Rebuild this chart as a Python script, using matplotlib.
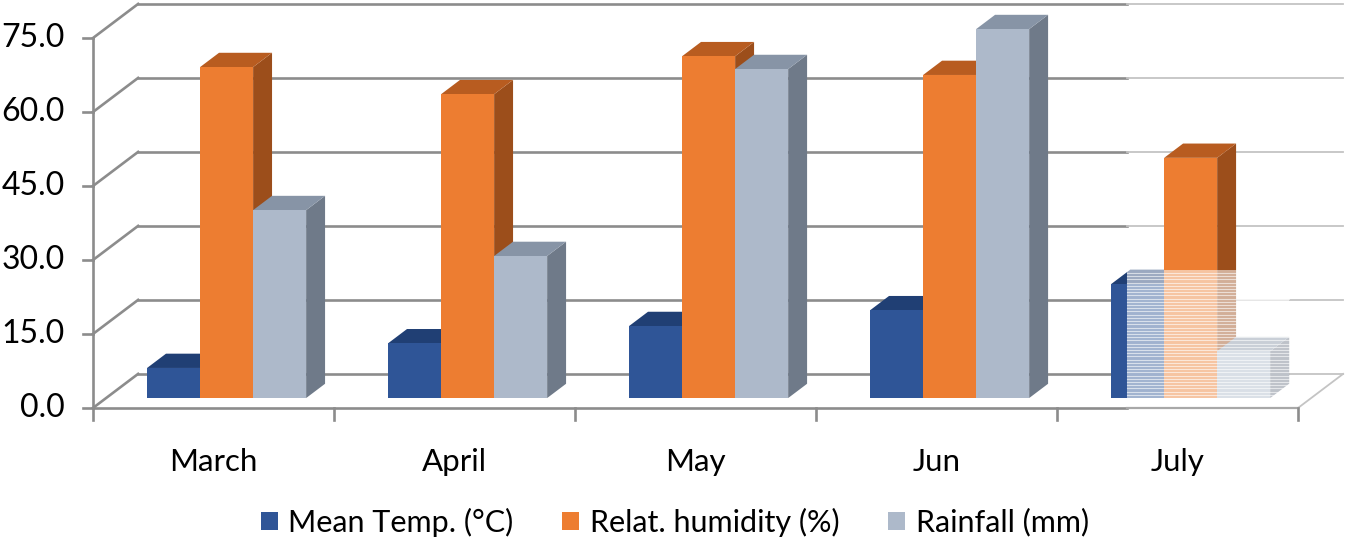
import matplotlib.pyplot as plt
from matplotlib.patches import Polygon, Rectangle

months = ['March', 'April', 'May', 'Jun', 'July']
series = ['Mean Temp. (°C)', 'Relat. humidity (%)', 'Rainfall (mm)']
mean_temp = [6.1, 11.1, 14.6, 17.8, 23.1]
humidity = [67.1, 61.6, 69.3, 65.5, 48.7]
rainfall = [38.1, 28.8, 66.7, 74.8, 9.5]
yticks = [0, 15, 30, 45, 60, 75]

front = ['#2f5597', '#ed7d31', '#adb9ca']
top = ['#203f74', '#b85c20', '#8794a6']
side = ['#1d3560', '#9c4e1b', '#6f7a89']

plt.rcParams['font.family'] = ['Lato', 'DejaVu Sans']

# oblique offset of the plot box depth (data units)
DX, DY = 0.187, 6.9
GAP, BW = 0.17, 0.22      # group margin, single bar width
D0, DD = 0.29, 0.42       # bar front position / bar depth, as fraction of box depth
grid = '#8c8c8c'
light = '#c4c4c4'
fade_x = 4.29             # beyond this the exported picture is washed out

fig = plt.figure(figsize=(13.47, 5.49), dpi=100)
ax = fig.add_axes([0, 0, 1, 1])
ax.set_xlim(-0.386, 5.203)
ax.set_ylim(-28.6, 82.7)
ax.axis('off')

# walls
for v in yticks:
    ax.plot([0, DX], [v, v + DY], color=grid, lw=1.9, zorder=1)
    ax.plot([DX, fade_x], [v + DY, v + DY], color=grid, lw=1.9, zorder=1)
    ax.plot([fade_x, 5 + DX], [v + DY, v + DY], color=light, lw=1.3, zorder=1)
    ax.plot([-0.042, 0], [v, v], color=grid, lw=1.9, zorder=1)
    ax.text(-0.118, v, f'{v:.1f}', ha='right', va='center', fontsize=23)
ax.plot([0, 0], [0, yticks[-1]], color=grid, lw=1.9, zorder=1)
ax.plot([0, fade_x], [0, 0], color=grid, lw=1.9, zorder=1)
ax.plot([fade_x, 5], [0, 0], color='#a8a8a8', lw=1.6, zorder=1)
ax.plot([5, 5 + DX], [0, DY], color=light, lw=1.3, zorder=1)
for i in range(len(months) + 1):
    ax.plot([i, i], [0, -2.4], color=grid, lw=1.9, zorder=1)
for i, m in enumerate(months):
    ax.text(i + 0.5, -11, m, ha='center', va='center', fontsize=22.5)


def bar3d(x0, h, k):
    x, y = x0 + D0 * DX, D0 * DY
    ddx, ddy = DD * DX, DD * DY
    ax.add_patch(Polygon([(x + BW, y), (x + BW + ddx, y + ddy),
                          (x + BW + ddx, y + h + ddy), (x + BW, y + h)],
                         fc=side[k], ec='none', zorder=2))
    ax.add_patch(Polygon([(x, y + h), (x + BW, y + h),
                          (x + BW + ddx, y + h + ddy), (x + ddx, y + h + ddy)],
                         fc=top[k], ec='none', zorder=2))
    ax.add_patch(Rectangle((x, y), BW, h, fc=front[k], ec='none', zorder=2))


values = [mean_temp, humidity, rainfall]
for i in range(len(months)):
    for k in range(3):
        bar3d(i + GAP + k * BW, values[k][i], k)

# washed-out patch over the lower part of the July bars
y_lo = D0 * DY
y_hi = mean_temp[-1] + (D0 + DD) * DY
x_hi = 4 + GAP + 3 * BW + (D0 + DD) * DX
ax.add_patch(Rectangle((fade_x, y_lo), x_hi - fade_x, y_hi - y_lo,
                       fc='white', alpha=0.55, ec='none', zorder=3))
yy = y_lo
while yy < y_hi:
    ax.plot([fade_x, x_hi], [yy, yy], color='white', lw=0.8, alpha=0.6, zorder=3)
    yy += 0.65

handles = [Rectangle((0, 0), 1, 1, fc=c, ec='none') for c in front]
ax.legend(handles, series, loc='center', bbox_to_anchor=(0.501, 0.049),
          ncol=3, frameon=False, fontsize=22, handlelength=0.55,
          handleheight=0.55, handletextpad=0.35, columnspacing=1.6)

fig.savefig('out.png', dpi=100)
